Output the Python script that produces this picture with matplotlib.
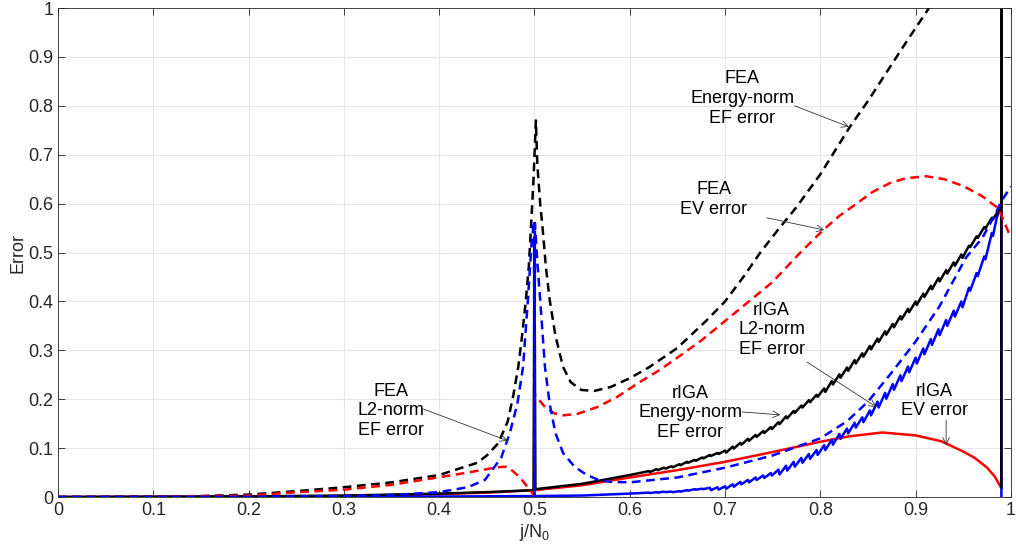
import numpy as np
import matplotlib
matplotlib.use('Agg')
import matplotlib.pyplot as plt

plt.rcParams['font.family'] = ['Liberation Sans', 'DejaVu Sans']

# FEA energy-norm EF error (black dashed)
fea_en_x = [0, 0.1, 0.15, 0.2, 0.25, 0.3, 0.35, 0.4, 0.44, 0.45, 0.462, 0.472, 0.478, 0.483,
            0.487, 0.491, 0.494, 0.496, 0.499, 0.5015, 0.503, 0.506, 0.509, 0.512, 0.516, 0.522,
            0.53, 0.538, 0.549, 0.563, 0.58, 0.6, 0.62, 0.65, 0.68, 0.7, 0.72, 0.737, 0.755,
            0.775, 0.8, 0.831, 0.85, 0.87, 0.89, 0.914, 0.93]
fea_en_y = [0, 0.0008, 0.002, 0.005, 0.012, 0.02, 0.03, 0.045, 0.07, 0.085, 0.11, 0.155, 0.21,
            0.266, 0.33, 0.403, 0.47, 0.54, 0.65, 0.77, 0.68, 0.6, 0.54, 0.47, 0.403, 0.33, 0.266,
            0.235, 0.219, 0.217, 0.225, 0.243, 0.265, 0.305, 0.36, 0.4, 0.452, 0.5, 0.545, 0.593,
            0.66, 0.757, 0.81, 0.87, 0.93, 1.0, 1.05]

# FEA EV error (red dashed)
fea_ev_x = [0, 0.1, 0.2, 0.253, 0.3, 0.35, 0.392, 0.43, 0.45, 0.462, 0.47, 0.476, 0.485, 0.492,
            0.4995, 0.5, 0.505, 0.512, 0.521, 0.53, 0.545, 0.566, 0.587, 0.608, 0.63, 0.65, 0.675,
            0.7, 0.725, 0.75, 0.779, 0.803, 0.82, 0.838, 0.855, 0.873, 0.89, 0.911, 0.93, 0.95,
            0.97, 0.987, 1.0]
fea_ev_y = [0, 0.0005, 0.003, 0.01, 0.015, 0.025, 0.038, 0.05, 0.057, 0.061, 0.062, 0.055, 0.04,
            0.022, 0.004, 0.21, 0.198, 0.182, 0.171, 0.167, 0.17, 0.184, 0.205, 0.232, 0.258,
            0.285, 0.32, 0.36, 0.4, 0.44, 0.5, 0.546, 0.575, 0.6, 0.624, 0.642, 0.652, 0.656,
            0.65, 0.636, 0.615, 0.59, 0.53]

# FEA L2-norm EF error (blue dashed)
fea_l2_x = [0, 0.2, 0.3, 0.35, 0.4, 0.43, 0.448, 0.465, 0.474, 0.482, 0.488, 0.493, 0.497,
            0.4995, 0.5, 0.5005, 0.503, 0.506, 0.511, 0.516, 0.522, 0.53, 0.542, 0.555, 0.566,
            0.58, 0.6, 0.65, 0.7, 0.75, 0.8, 0.828, 0.85, 0.875, 0.9, 0.925, 0.953, 0.97, 0.984,
            0.99, 1.0]
fea_l2_y = [0, 0.0005, 0.002, 0.004, 0.01, 0.02, 0.035, 0.08, 0.13, 0.19, 0.266, 0.4, 0.52,
            0.565, 0.005, 0.56, 0.48, 0.403, 0.266, 0.19, 0.131, 0.09, 0.062, 0.045, 0.036, 0.031,
            0.03, 0.04, 0.06, 0.085, 0.12, 0.155, 0.195, 0.255, 0.318, 0.39, 0.49, 0.53, 0.58,
            0.605, 0.635]

# rIGA EV error (red solid)
riga_ev_x = [0, 0.2, 0.3, 0.4, 0.45, 0.5, 0.55, 0.6, 0.65, 0.7, 0.75, 0.8, 0.83, 0.865, 0.9,
             0.927, 0.95, 0.962, 0.975, 0.983, 0.99]
riga_ev_y = [0, 0.0005, 0.002, 0.006, 0.009, 0.014, 0.024, 0.04, 0.055, 0.072, 0.092, 0.113,
             0.124, 0.132, 0.126, 0.114, 0.093, 0.08, 0.06, 0.042, 0.018]

# sawtooth positions shared by the two rIGA EF curves
tooth_x = [0.620, 0.628, 0.636, 0.644, 0.652, 0.660, 0.668, 0.676, 0.684, 0.692, 0.700, 0.708,
           0.716, 0.724, 0.732, 0.740, 0.748, 0.756, 0.764, 0.772, 0.780, 0.788, 0.796, 0.804,
           0.812, 0.820, 0.828, 0.836, 0.844, 0.852, 0.860, 0.868, 0.876, 0.884, 0.892, 0.900,
           0.908, 0.916, 0.924, 0.932, 0.940, 0.948, 0.956, 0.964, 0.972, 0.980]

# rIGA energy-norm EF error (black solid)
riga_en_head_x = [0, 0.1, 0.2, 0.3, 0.4, 0.45, 0.499, 0.5, 0.501, 0.55, 0.6]
riga_en_head_y = [0, 0.0005, 0.0015, 0.003, 0.007, 0.010, 0.014, 0.52, 0.016, 0.027, 0.045]
riga_en_tooth = [0.053, 0.057, 0.060, 0.063, 0.067, 0.072, 0.076, 0.081, 0.086, 0.090, 0.095,
                 0.103, 0.111, 0.119, 0.127, 0.135, 0.143, 0.153, 0.165, 0.176, 0.187, 0.198,
                 0.209, 0.222, 0.237, 0.251, 0.265, 0.280, 0.294, 0.309, 0.324, 0.339, 0.354,
                 0.370, 0.385, 0.400, 0.416, 0.432, 0.448, 0.464, 0.480, 0.496, 0.514, 0.533,
                 0.552, 0.571]
riga_en_drop = [0.002] * 10 + [0.004] * 13 + [0.007] * 13 + [0.007] * 6 + [0.003] * 4
riga_en_tail_x = [0.99, 0.99, 0.99]
riga_en_tail_y = [0.595, 1.2, 0.02]

# rIGA L2-norm EF error (blue solid)
riga_l2_head_x = [0, 0.2, 0.4, 0.5, 0.55, 0.6]
riga_l2_head_y = [0, 0.0005, 0.001, 0.002, 0.003, 0.007]
riga_l2_tooth = [0.009, 0.010, 0.011, 0.011, 0.012, 0.014, 0.016, 0.017, 0.019, 0.020, 0.022,
                 0.026, 0.031, 0.035, 0.040, 0.044, 0.049, 0.056, 0.064, 0.072, 0.080, 0.088,
                 0.096, 0.106, 0.117, 0.129, 0.140, 0.152, 0.163, 0.177, 0.195, 0.213, 0.231,
                 0.249, 0.267, 0.285, 0.304, 0.323, 0.343, 0.362, 0.381, 0.400, 0.428, 0.458,
                 0.492, 0.540]
riga_l2_drop = [0.001] * 8 + [0.005] * 9 + [0.010] * 13 + [0.012] * 12 + [0.006] * 4
riga_l2_tail_x = [0.985, 0.99, 0.99]
riga_l2_tail_y = [0.57, 0.6, 0.0]

ticks = [0, 0.1, 0.2, 0.3, 0.4, 0.5, 0.6, 0.7, 0.8, 0.9, 1]
tick_labels = ['0', '0.1', '0.2', '0.3', '0.4', '0.5', '0.6', '0.7', '0.8', '0.9', '1']

TOOTH_W = 0.0012


def with_teeth(hx, hy, tops, drops, tx, ty):
    xs, ys = list(hx), list(hy)
    for x, y, d in zip(tooth_x, tops, drops):
        xs += [x, x + TOOTH_W]
        ys += [y, y - d]
    return xs + list(tx), ys + list(ty)


en_x, en_y = with_teeth(riga_en_head_x, riga_en_head_y, riga_en_tooth, riga_en_drop,
                        riga_en_tail_x, riga_en_tail_y)
l2_x, l2_y = with_teeth(riga_l2_head_x, riga_l2_head_y, riga_l2_tooth, riga_l2_drop,
                        riga_l2_tail_x, riga_l2_tail_y)

fig, ax = plt.subplots(figsize=(10.16, 5.46), dpi=100)
fig.subplots_adjust(left=0.0571, right=0.995, bottom=0.0897, top=0.9853)

dash = (0, (3.5, 2.2))
ax.plot(riga_ev_x, riga_ev_y, color='r', lw=1.8)
ax.plot(l2_x, l2_y, color='b', lw=1.8)
ax.plot(en_x, en_y, color='k', lw=1.8)
ax.plot(fea_en_x, fea_en_y, color='k', lw=1.8, ls=dash)
ax.plot(fea_ev_x, fea_ev_y, color='r', lw=1.8, ls=dash)
ax.plot(fea_l2_x, fea_l2_y, color='b', lw=1.8, ls=dash)

ax.set_xlim(0, 1)
ax.set_ylim(0, 1)
ax.set_xticks(ticks)
ax.set_xticklabels(tick_labels)
ax.set_yticks(ticks)
ax.set_yticklabels(tick_labels)
ax.grid(True, color='#e6e6e6', lw=0.8)
ax.set_axisbelow(True)
ax.tick_params(direction='in', length=5, top=True, right=True, labelsize=13,
               colors='#262626', width=0.6)
for s in ax.spines.values():
    s.set_color('#262626')
    s.set_linewidth(0.6)

ax.set_xlabel('j/N$_{\\mathregular{0}}$', fontsize=13, color='#262626', labelpad=2)
ax.set_ylabel('Error', fontsize=13, color='#262626', labelpad=1)

notes = [
    ('FEA\nEnergy-norm\nEF error', (0.718, 0.815), (0.773, 0.80), (0.830, 0.757)),
    ('FEA\nEV error', (0.688, 0.609), (0.744, 0.571), (0.804, 0.546)),
    ('rIGA\nL2-norm\nEF error', (0.749, 0.342), (0.786, 0.276), (0.859, 0.184)),
    ('rIGA\nEnergy-norm\nEF error', (0.6635, 0.172), (0.718, 0.174), (0.758, 0.168)),
    ('FEA\nL2-norm\nEF error', (0.349, 0.176), (0.3835, 0.18), (0.472, 0.115)),
    ('rIGA\nEV error', (0.9195, 0.196), (0.932, 0.157), (0.932, 0.106)),
]
for label, pos, tail, head in notes:
    ax.text(pos[0], pos[1], label, ha='center', va='center', fontsize=13,
            linespacing=1.2, color='k')
    ax.annotate('', xy=head, xytext=tail,
                arrowprops=dict(arrowstyle='->', lw=0.6, color='#333333',
                                shrinkA=0, shrinkB=0, mutation_scale=12))

fig.savefig('out.png', dpi=100)
